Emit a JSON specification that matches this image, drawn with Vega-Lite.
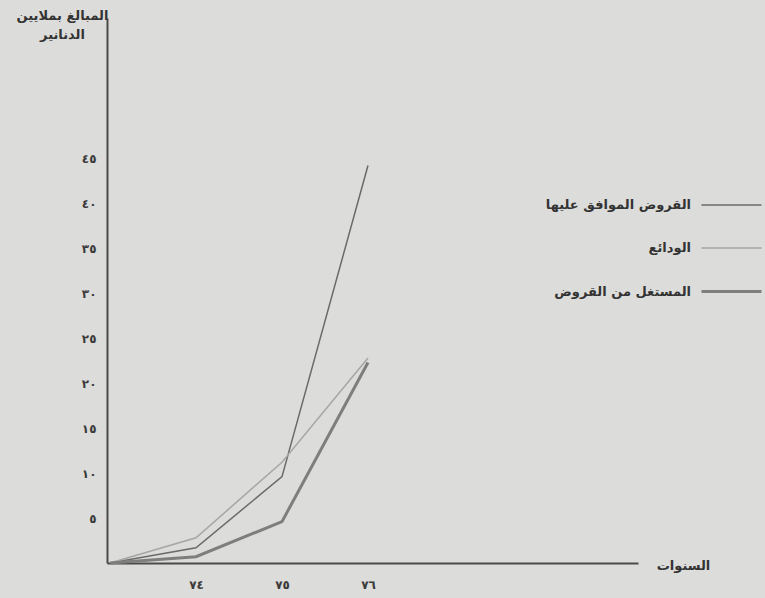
{
  "$schema": "https://vega.github.io/schema/vega-lite/v6.json",
  "autosize": "none",
  "width": 531,
  "height": 545,
  "padding": {"left": 107, "top": 18, "right": 127, "bottom": 35},
  "background": "#dcdcda",
  "config": {
    "view": {"stroke": null},
    "font": "DejaVu Sans",
    "axis": {"grid": false, "ticks": false, "domainColor": "#4a4a4a", "domainWidth": 2, "labelColor": "#3a3a3a", "labelFont": "DejaVu Sans", "labelFontWeight": "bold", "labelFontSize": 12, "titleColor": "#333333", "titleFont": "DejaVu Sans", "titleFontWeight": "bold", "titleFontSize": 12}
  },
  "data": {
    "values": [
      {"year": 73, "series": "القروض الموافق عليها", "value": 0},
      {"year": 74, "series": "القروض الموافق عليها", "value": 1.7},
      {"year": 75, "series": "القروض الموافق عليها", "value": 9.6},
      {"year": 76, "series": "القروض الموافق عليها", "value": 44.2},
      {"year": 73, "series": "الودائع", "value": 0},
      {"year": 74, "series": "الودائع", "value": 2.8},
      {"year": 75, "series": "الودائع", "value": 11.2},
      {"year": 76, "series": "الودائع", "value": 22.8},
      {"year": 73, "series": "المستغل من القروض", "value": 0},
      {"year": 74, "series": "المستغل من القروض", "value": 0.7},
      {"year": 75, "series": "المستغل من القروض", "value": 4.6},
      {"year": 76, "series": "المستغل من القروض", "value": 22.3}
    ]
  },
  "mark": {"type": "line", "strokeJoin": "miter"},
  "encoding": {
    "x": {
      "field": "year", "type": "quantitative",
      "scale": {"domain": [72.965, 79.14], "nice": false, "zero": false},
      "axis": {
        "values": [74, 75, 76],
        "labelExpr": "{'74': '٧٤', '75': '٧٥', '76': '٧٦'}[datum.label]",
        "labelPadding": 16,
        "title": "السنوات",
        "titleX": 576,
        "titleY": 2,
        "titleAlign": "center",
        "titleBaseline": "middle",
        "titleFontSize": 13
      }
    },
    "y": {
      "field": "value", "type": "quantitative",
      "scale": {"domain": [0, 60.6], "nice": false},
      "axis": {
        "values": [5, 10, 15, 20, 25, 30, 35, 40, 45],
        "labelExpr": "{'5': '٥', '10': '١٠', '15': '١٥', '20': '٢٠', '25': '٢٥', '30': '٣٠', '35': '٣٥', '40': '٤٠', '45': '٤٥'}[datum.label]",
        "labelPadding": 11,
        "title": ["المبالغ بملايين", "الدنانير"],
        "titleAngle": 0,
        "titleX": -45,
        "titleY": -3,
        "titleAlign": "center",
        "titleBaseline": "middle",
        "titleLineHeight": 19,
        "titleFontSize": 13
      }
    },
    "color": {
      "field": "series", "type": "nominal",
      "scale": {"domain": ["القروض الموافق عليها", "الودائع", "المستغل من القروض"], "range": ["#6a6a6a", "#a6a6a6", "#7e7e7e"]},
      "legend": {
        "title": null,
        "orient": "none",
        "legendX": 593,
        "legendY": 156,
        "padding": 0,
        "symbolType": "stroke",
        "symbolSize": 3600,
        "labelAlign": "right",
        "labelOffset": -72,
        "labelFont": "DejaVu Sans",
        "labelFontWeight": "bold",
        "labelFontSize": 13,
        "labelColor": "#333333",
        "labelLimit": 300,
        "rowPadding": 5
      }
    },
    "strokeWidth": {
      "field": "series", "type": "nominal",
      "scale": {"type": "ordinal", "domain": ["القروض الموافق عليها", "الودائع", "المستغل من القروض"], "range": [1.5, 1.5, 3]},
      "legend": {
        "title": null,
        "orient": "none",
        "legendX": 593,
        "legendY": 156,
        "padding": 0,
        "symbolType": "stroke",
        "symbolSize": 3600,
        "labelAlign": "right",
        "labelOffset": -72,
        "labelFont": "DejaVu Sans",
        "labelFontWeight": "bold",
        "labelFontSize": 13,
        "labelColor": "#333333",
        "labelLimit": 300,
        "rowPadding": 5
      }
    }
  }
}
